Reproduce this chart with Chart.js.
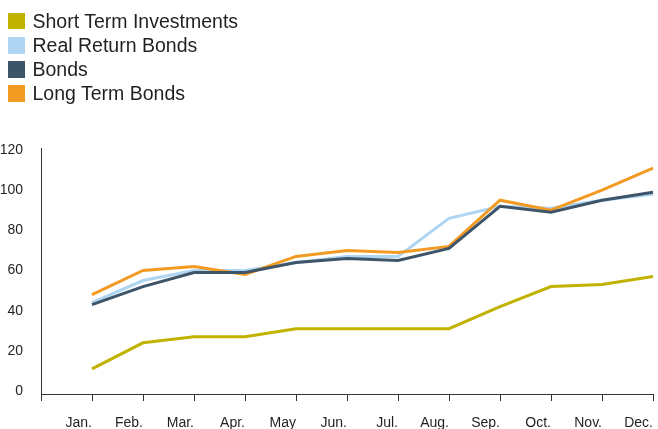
<!DOCTYPE html>
<html lang="en">
<head>
    <meta charset="UTF-8">
    <title>Returns by Month</title>
    <style>
        body { margin: 0; background: #fff; }
        #wrap { position: relative; width: 658px; height: 429px; }
        #legend {
            position: absolute; left: 8px; top: 9px;
            font-family: "Liberation Sans", Arial, sans-serif;
            font-size: 19.5px; color: #231f20;
        }
        .item { display: flex; align-items: center; height: 24.2px; }
        .box { width: 16.5px; height: 16.5px; margin-right: 8px; }
    </style>
</head>
<body>
<div id="wrap">
    <canvas id="returnsChart" width="658" height="429"></canvas>
    <div id="legend"></div>
</div>

<script src="https://cdn.jsdelivr.net/npm/chart.js"></script>
<script>
    // Monthly values per fund
    const months = ['Jan.', 'Feb.', 'Mar.', 'Apr.', 'May', 'Jun.', 'Jul.', 'Aug.', 'Sep.', 'Oct.', 'Nov.', 'Dec.'];
    const shortTerm  = [11, 24, 27, 27, 31, 31, 31, 31, 42, 52, 53, 57];
    const realReturn = [44, 55, 60, 60, 64, 67, 67, 86, 92, 91, 95, 98];
    const bonds      = [43, 52, 59, 59, 64, 66, 65, 71, 92, 89, 95, 99];
    const longTerm   = [48, 60, 62, 58, 67, 70, 69, 72, 95, 90, 100, 111];

    // first slot is left empty so January sits one step right of the y axis
    const labels = [''].concat(months);

    function series(label, values, color, order) {
        return {
            label: label,
            data: [null].concat(values),
            borderColor: color,
            backgroundColor: color,
            borderWidth: 3,
            pointRadius: 0,
            tension: 0,
            order: order
        };
    }

    const axisColor = '#333333';
    Chart.defaults.font.family = '"Liberation Sans", Arial, sans-serif';
    Chart.defaults.color = '#231f20';

    const ctx = document.getElementById('returnsChart').getContext('2d');
    const chart = new Chart(ctx, {
        type: 'line',
        data: {
            labels: labels,
            datasets: [
                series('Short Term Investments', shortTerm, '#c2b200', 3),
                series('Real Return Bonds', realReturn, '#aed5f2', 2),
                series('Bonds', bonds, '#3e5468', 0),
                series('Long Term Bonds', longTerm, '#f39a22', 1)
            ]
        },
        options: {
            responsive: false,
            animation: false,
            layout: { padding: { top: 148, right: 5, left: 0, bottom: 0 } },
            plugins: {
                legend: { display: false },
                tooltip: { enabled: false }
            },
            scales: {
                x: {
                    offset: false,
                    grid: {
                        offset: false,
                        drawOnChartArea: false,
                        drawTicks: true,
                        tickLength: 7,
                        color: axisColor
                    },
                    border: { display: true, color: axisColor, width: 1 },
                    ticks: {
                        autoSkip: false,
                        maxRotation: 0,
                        align: 'end',
                        padding: 14,
                        font: { size: 14 }
                    },
                    afterFit: function (scale) {
                        scale.height = 35;
                        // labels are right-aligned to their ticks, no side overflow
                        scale.paddingLeft = 0;
                        scale.paddingRight = 0;
                    }
                },
                y: {
                    min: -1.5,
                    max: 121,
                    grid: { display: false },
                    border: { display: true, color: axisColor, width: 1 },
                    ticks: {
                        stepSize: 20,
                        includeBounds: false,
                        padding: 10,
                        font: { size: 14 }
                    },
                    afterFit: function (scale) { scale.width = 41; }
                }
            }
        }
    });

    // Legend built from the datasets, one entry per row
    const legend = document.getElementById('legend');
    chart.data.datasets.forEach(function (ds) {
        const item = document.createElement('div');
        item.className = 'item';
        const box = document.createElement('span');
        box.className = 'box';
        box.style.background = ds.borderColor;
        const text = document.createElement('span');
        text.textContent = ds.label;
        item.appendChild(box);
        item.appendChild(text);
        legend.appendChild(item);
    });
</script>
</body>
</html>
